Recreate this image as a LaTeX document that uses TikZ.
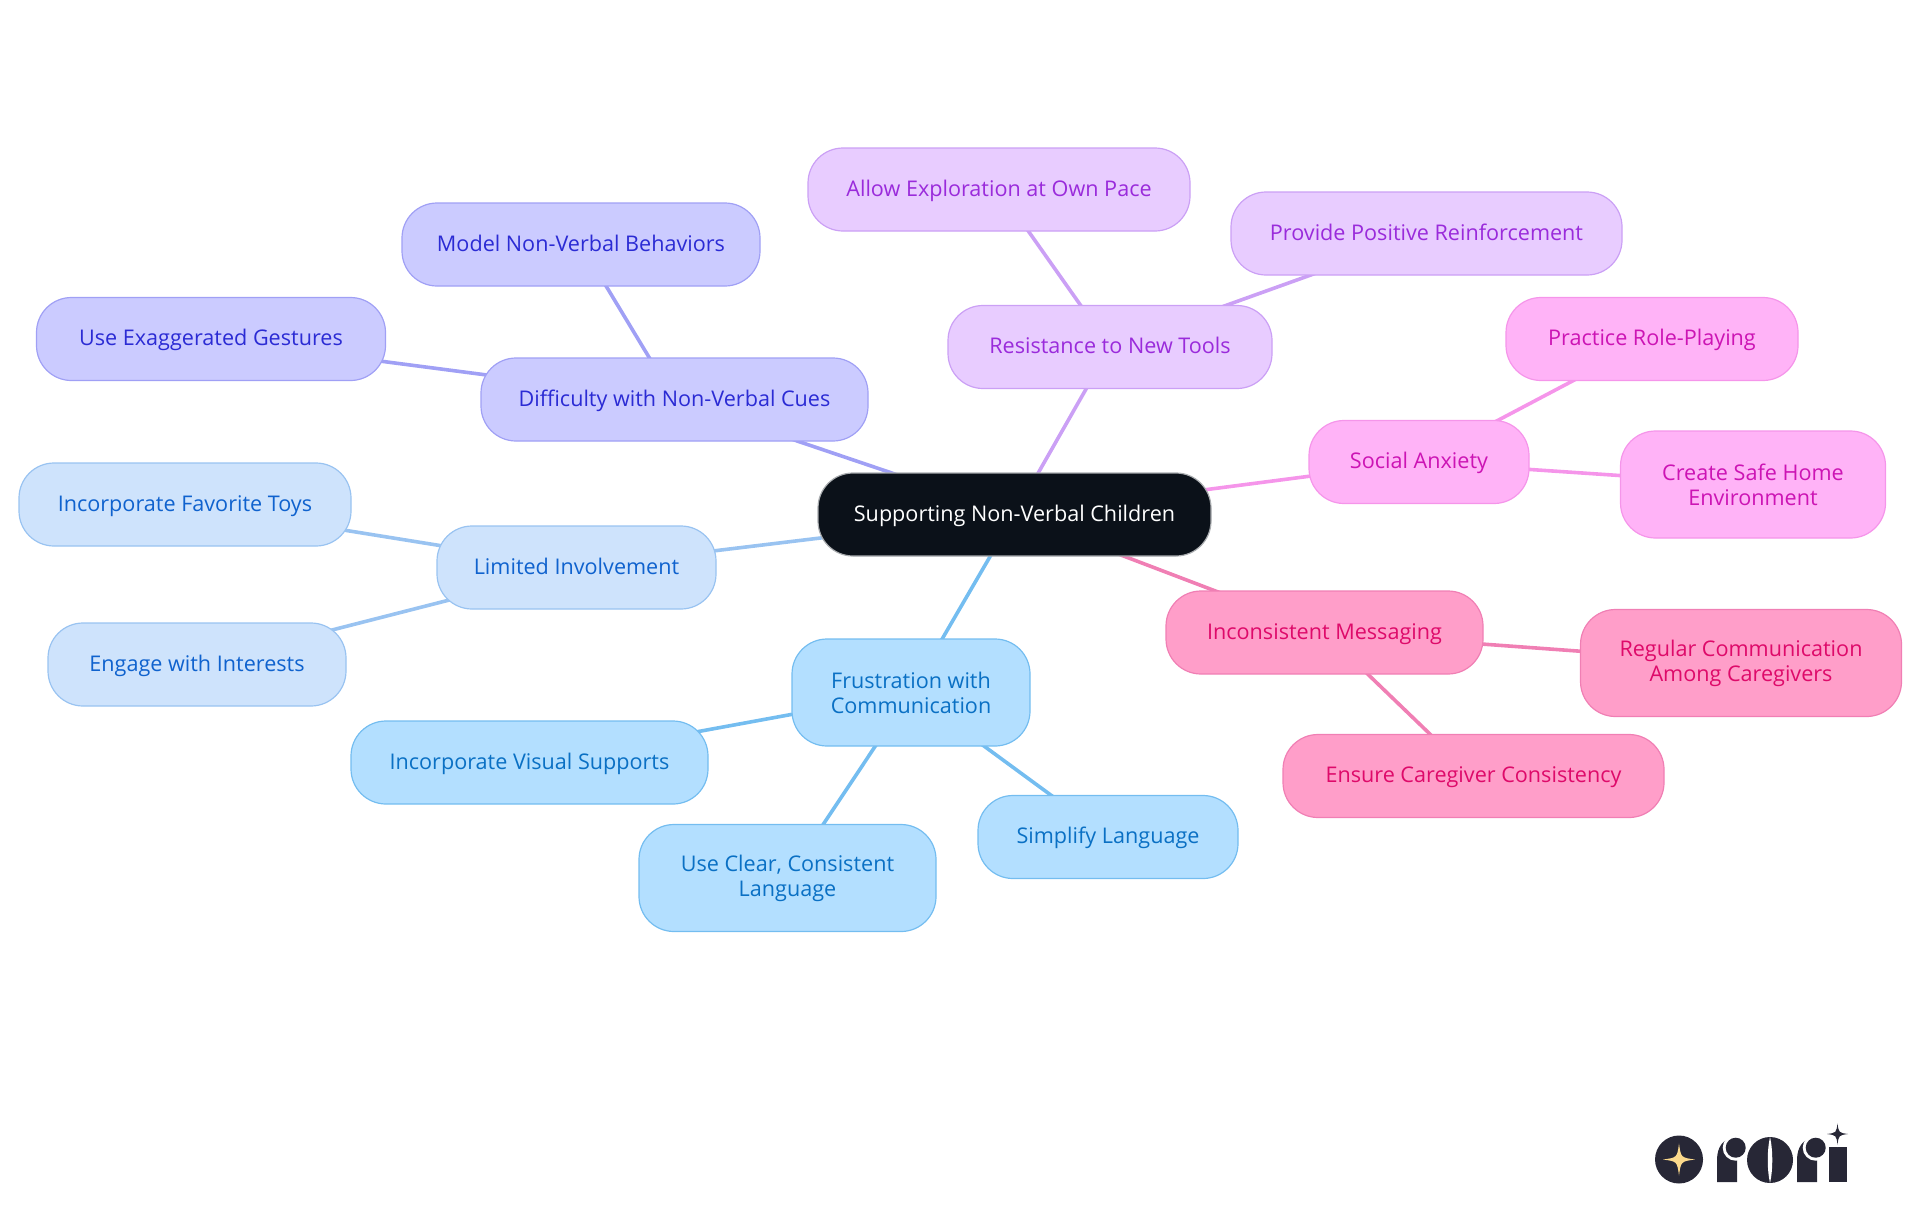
\documentclass[tikz,border=0pt]{standalone}
\usepackage{fontspec}
\setmainfont{Open Sans}
\usetikzlibrary{backgrounds}
\definecolor{rootfill}{HTML}{0B1119}
\definecolor{rootline}{HTML}{A9ACAF}
\definecolor{frustfill}{HTML}{B3DFFF}
\definecolor{frustline}{HTML}{74BDF0}
\definecolor{frusttext}{HTML}{0A70C4}
\definecolor{limitfill}{HTML}{CEE3FC}
\definecolor{limitline}{HTML}{99C3F1}
\definecolor{limittext}{HTML}{0F62CE}
\definecolor{cuefill}{HTML}{CBCBFF}
\definecolor{cueline}{HTML}{A0A0F5}
\definecolor{cuetext}{HTML}{2B2BD4}
\definecolor{toolfill}{HTML}{E8CCFF}
\definecolor{toolline}{HTML}{CBA0F5}
\definecolor{tooltext}{HTML}{9A2BDB}
\definecolor{socialfill}{HTML}{FFB3F7}
\definecolor{socialline}{HTML}{F595EA}
\definecolor{socialtext}{HTML}{CC14B4}
\definecolor{msgfill}{HTML}{FF9EC9}
\definecolor{msgline}{HTML}{F07FB4}
\definecolor{msgtext}{HTML}{DE0A6A}
\definecolor{logodark}{HTML}{272736}
\definecolor{logostar}{HTML}{FBD98B}
\tikzset{
  mapnode/.style={rectangle,rounded corners=17.5pt,inner sep=0pt,minimum height=41.5pt,
    text height=8.5pt,text depth=2pt,align=center,line width=.6pt,font=\fontsize{10.8}{12.5}\selectfont},
  twoline/.style={minimum height=53.5pt,text height=,text depth=},
  rootnode/.style={mapnode,draw=rootline,fill=rootfill,text=white},
  frustnode/.style={mapnode,draw=frustline,fill=frustfill,text=frusttext},
  limitnode/.style={mapnode,draw=limitline,fill=limitfill,text=limittext},
  cuenode/.style={mapnode,draw=cueline,fill=cuefill,text=cuetext},
  toolnode/.style={mapnode,draw=toolline,fill=toolfill,text=tooltext},
  socialnode/.style={mapnode,draw=socialline,fill=socialfill,text=socialtext},
  msgnode/.style={mapnode,draw=msgline,fill=msgfill,text=msgtext},
  link/.style={line width=1.8pt}
}
\newcommand{\fourstar}[3]{\fill[#3,shift={#1},scale=#2] (0,-1) .. controls (.12,-.12) .. (1,0) .. controls (.12,.12) .. (0,1) .. controls (-.12,.12) .. (-1,0) .. controls (-.12,-.12) .. cycle;}
\newcommand{\logor}[1]{%
\fill[logodark,shift={(#1,0)}] (0,1182)--(20,1182)--(20,1140)--(16,1138) .. controls (6,1139) and (0,1147) .. (0,1160)--cycle;
\fill[white,shift={(#1,0)}] (18.7,1147.7) circle (13);
\fill[logodark,shift={(#1,0)}] (18.7,1147.7) circle (10);}
\begin{document}
\begin{tikzpicture}[x=.5pt,y=-.5pt]
\useasboundingbox (0,0) rectangle (1920,1215);
\node[rootnode,minimum width=196.5pt] (root) at (1014.5,514.5) {Supporting Non-Verbal Children};
\node[cuenode,minimum width=193.5pt] (cues) at (674.5,399.5) {Difficulty with Non-Verbal Cues};
\node[cuenode,minimum width=179pt] (model) at (581,244.5) {Model Non-Verbal Behaviors};
\node[cuenode,minimum width=174.5pt] (gestures) at (211,339) {Use Exaggerated Gestures};
\node[limitnode,minimum width=139.5pt] (limited) at (576.5,567.5) {Limited Involvement};
\node[limitnode,minimum width=166pt] (toys) at (185,504.5) {Incorporate Favorite Toys};
\node[limitnode,minimum width=149pt] (interests) at (197,664.5) {Engage with Interests};
\node[frustnode,twoline,minimum width=119pt] (frust) at (911,692.5) {Frustration with\\Communication};
\node[frustnode,minimum width=178.5pt] (visual) at (529.5,762.5) {Incorporate Visual Supports};
\node[frustnode,twoline,minimum width=148.5pt] (clear) at (787.5,878) {Use Clear, Consistent\\Language};
\node[frustnode,minimum width=130pt] (simplify) at (1108,837) {Simplify Language};
\node[toolnode,minimum width=162pt] (resist) at (1110,347) {Resistance to New Tools};
\node[toolnode,minimum width=191pt] (pace) at (999,189.5) {Allow Exploration at Own Pace};
\node[toolnode,minimum width=195.5pt] (reinforce) at (1426.5,233.5) {Provide Positive Reinforcement};
\node[socialnode,minimum width=110pt] (social) at (1419,462) {Social Anxiety};
\node[socialnode,minimum width=146pt] (role) at (1652,339) {Practice Role-Playing};
\node[socialnode,twoline,minimum width=132.5pt] (home) at (1753,484.5) {Create Safe Home\\Environment};
\node[msgnode,minimum width=158.5pt] (msg) at (1324.5,632.5) {Inconsistent Messaging};
\node[msgnode,twoline,minimum width=160.5pt] (caregivers) at (1741,663) {Regular Communication\\Among Caregivers};
\node[msgnode,minimum width=190.5pt] (ensure) at (1473.5,776) {Ensure Caregiver Consistency};
\begin{scope}[on background layer]
\draw[link,cueline] (root.center)--(cues.center) (cues.center)--(model.center) (cues.center)--(gestures.center);
\draw[link,limitline] (root.center)--(limited.center) (limited.center)--(toys.center) (limited.center)--(interests.center);
\draw[link,frustline] (root.center)--(frust.center) (frust.center)--(visual.center) (frust.center)--(clear.center) (frust.center)--(simplify.center);
\draw[link,toolline] (root.center)--(resist.center) (resist.center)--(pace.center) (resist.center)--(reinforce.center);
\draw[link,socialline] (root.center)--(social.center) (social.center)--(role.center) (social.center)--(home.center);
\draw[link,msgline] (root.center)--(msg.center) (msg.center)--(caregivers.center) (msg.center)--(ensure.center);
\end{scope}
% logo
\fill[logodark] (1679,1159.5) circle (24);
\fourstar{(1679,1159.5)}{16}{logostar}
\logor{1717}
\fill[logodark] (1770,1160) circle (23);
\fill[white] (1770,1137) .. controls (1767,1150) and (1767,1170) .. (1770,1183) .. controls (1773,1170) and (1773,1150) .. (1770,1137)--cycle;
\logor{1797}
\fill[logodark] (1829,1147)--(1847,1147)--(1847,1182)--(1829,1182)--cycle;
\fill[white] (1837.5,1134) circle (13);
\fourstar{(1837.5,1134)}{10.5}{logodark}
\end{tikzpicture}
\end{document}
